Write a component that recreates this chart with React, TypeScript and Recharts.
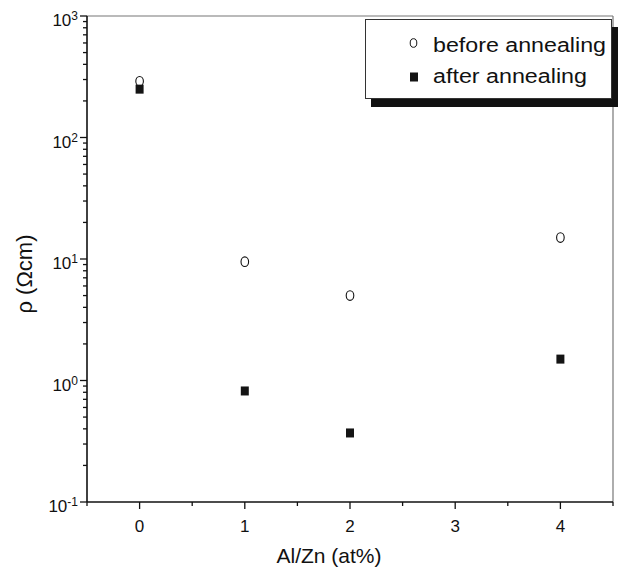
import React from 'react';
import { ScatterChart, Scatter, XAxis, YAxis, Legend, ReferenceLine } from 'recharts';

const alZn = [0, 1, 2, 4];
const rhoBefore = [290, 9.5, 5.0, 15];
const rhoAfter = [250, 0.82, 0.37, 1.5];
const seriesNames = ['before annealing', 'after annealing'];
const xMajorTicks = [0, 1, 2, 3, 4];
const xMinorTicks = [-0.5, 0.5, 1.5, 2.5, 3.5, 4.5];
const yMajorExponents = [-1, 0, 1, 2, 3];
const yMinorMultipliers = [2, 3, 4, 5, 6, 7, 8, 9];
const xLabel = 'Al/Zn (at%)';
const yLabel = 'ρ (Ωcm)';

const FONT = '"Liberation Sans", Arial, Helvetica, sans-serif';

const beforeData = alZn.map((x, i) => ({ x, y: rhoBefore[i] }));
const afterData = alZn.map((x, i) => ({ x, y: rhoAfter[i] }));

const yMajorValues = yMajorExponents.map((e) => Math.pow(10, e));
const yMinorValues: number[] = [];
yMajorExponents.slice(0, -1).forEach((e) => {
  yMinorMultipliers.forEach((m) => yMinorValues.push(m * Math.pow(10, e)));
});
const yTicks = [...yMajorValues, ...yMinorValues].sort((a, b) => a - b);
const xTicks = [...xMajorTicks, ...xMinorTicks].sort((a, b) => a - b);

const isMajorY = (v: number) => yMajorValues.some((m) => Math.abs(m - v) / m < 1e-6);
const isMajorX = (v: number) => xMajorTicks.includes(v);

const YTick = (props: any) => {
  const { x, y, payload } = props;
  const v = payload.value;
  const major = isMajorY(v);
  const exp = Math.round(Math.log10(v));
  return (
    <g>
      <line x1={x} x2={x - (major ? 7 : 4)} y1={y} y2={y} stroke="#111" strokeWidth={1.3} />
      {major && (
        <text x={x - 9} y={y + 10} textAnchor="end" fontFamily={FONT} fontSize={17} fill="#111">
          10
          <tspan fontSize={12} dy={-6}>{String(exp)}</tspan>
        </text>
      )}
    </g>
  );
};

const XTick = (props: any) => {
  const { x, y, payload } = props;
  const v = payload.value;
  const major = isMajorX(v);
  return (
    <g>
      <line x1={x} x2={x} y1={y} y2={y + (major ? 7 : 4)} stroke="#111" strokeWidth={1.3} />
      {major && (
        <text x={x} y={y + 30} textAnchor="middle" fontFamily={FONT} fontSize={17} fill="#111">
          {String(v)}
        </text>
      )}
    </g>
  );
};

const OpenCircle = (props: any) => {
  const { cx, cy } = props;
  if (cx == null || cy == null) return null;
  return <ellipse cx={cx} cy={cy} rx={3.8} ry={4.8} fill="#fff" stroke="#111" strokeWidth={1.1} />;
};

const FilledSquare = (props: any) => {
  const { cx, cy } = props;
  if (cx == null || cy == null) return null;
  return <rect x={cx - 4} y={cy - 4.5} width={8} height={9} fill="#141414" />;
};

const LegendBox = () => (
  <svg width={256} height={92} style={{ display: 'block', overflow: 'visible' }}>
    <rect x={6} y={8} width={247} height={80} fill="#111" />
    <rect x={0.5} y={0.5} width={246} height={79} fill="#fff" stroke="#333" strokeWidth={1} />
    <ellipse cx={48.5} cy={24} rx={3.3} ry={4.3} fill="#fff" stroke="#111" strokeWidth={1} />
    <text x={68} y={33} fontFamily={FONT} fontSize={20} fill="#111" textLength={173} lengthAdjust="spacingAndGlyphs">
      {seriesNames[0]}
    </text>
    <rect x={45} y={53.5} width={8} height={9} fill="#141414" />
    <text x={68} y={64} fontFamily={FONT} fontSize={20} fill="#111" textLength={154} lengthAdjust="spacingAndGlyphs">
      {seriesNames[1]}
    </text>
  </svg>
);

export default function App() {
  return (
    <div style={{ position: 'absolute', left: 0, top: 0, width: 627, height: 568, background: '#fff' }}>
      <ScatterChart
        width={627}
        height={568}
        margin={{ top: 16, right: 14, bottom: 0, left: 0 }}
      >
        <ReferenceLine y={1000} stroke="#777" strokeWidth={1.2} />
        <ReferenceLine x={4.5} stroke="#777" strokeWidth={1.2} />
        <XAxis
          type="number"
          dataKey="x"
          domain={[-0.5, 4.5]}
          ticks={xTicks}
          interval={0}
          allowDataOverflow
          height={66}
          tickSize={0}
          tickMargin={0}
          tickLine={false}
          axisLine={{ stroke: '#111', strokeWidth: 1.6 }}
          tick={<XTick />}
          label={{
            content: (p: any) => {
              const vb = p.viewBox;
              return (
                <text x={vb.x + vb.width / 2 - 21} y={563} textAnchor="middle" fontFamily={FONT} fontSize={21} fill="#111">
                  {xLabel}
                </text>
              );
            },
          }}
        />
        <YAxis
          type="number"
          dataKey="y"
          scale="log"
          domain={[0.1, 1000]}
          ticks={yTicks}
          interval={0}
          allowDataOverflow
          width={87}
          tickSize={0}
          tickMargin={0}
          tickLine={false}
          axisLine={{ stroke: '#111', strokeWidth: 1.6 }}
          tick={<YTick />}
          label={{
            content: () => (
              <text
                x={32}
                y={274}
                textAnchor="middle"
                transform="rotate(-90 32 274)"
                fontFamily={FONT}
                fontSize={22}
                fill="#111"
              >
                {yLabel}
              </text>
            ),
          }}
        />
        <Legend
          layout="vertical"
          align="center"
          verticalAlign="middle"
          wrapperStyle={{ position: 'absolute', left: 365, top: 19, width: 256, height: 92 }}
          content={() => <LegendBox />}
        />
        <Scatter name={seriesNames[0]} data={beforeData} shape={<OpenCircle />} isAnimationActive={false} />
        <Scatter name={seriesNames[1]} data={afterData} shape={<FilledSquare />} isAnimationActive={false} />
      </ScatterChart>
    </div>
  );
}
